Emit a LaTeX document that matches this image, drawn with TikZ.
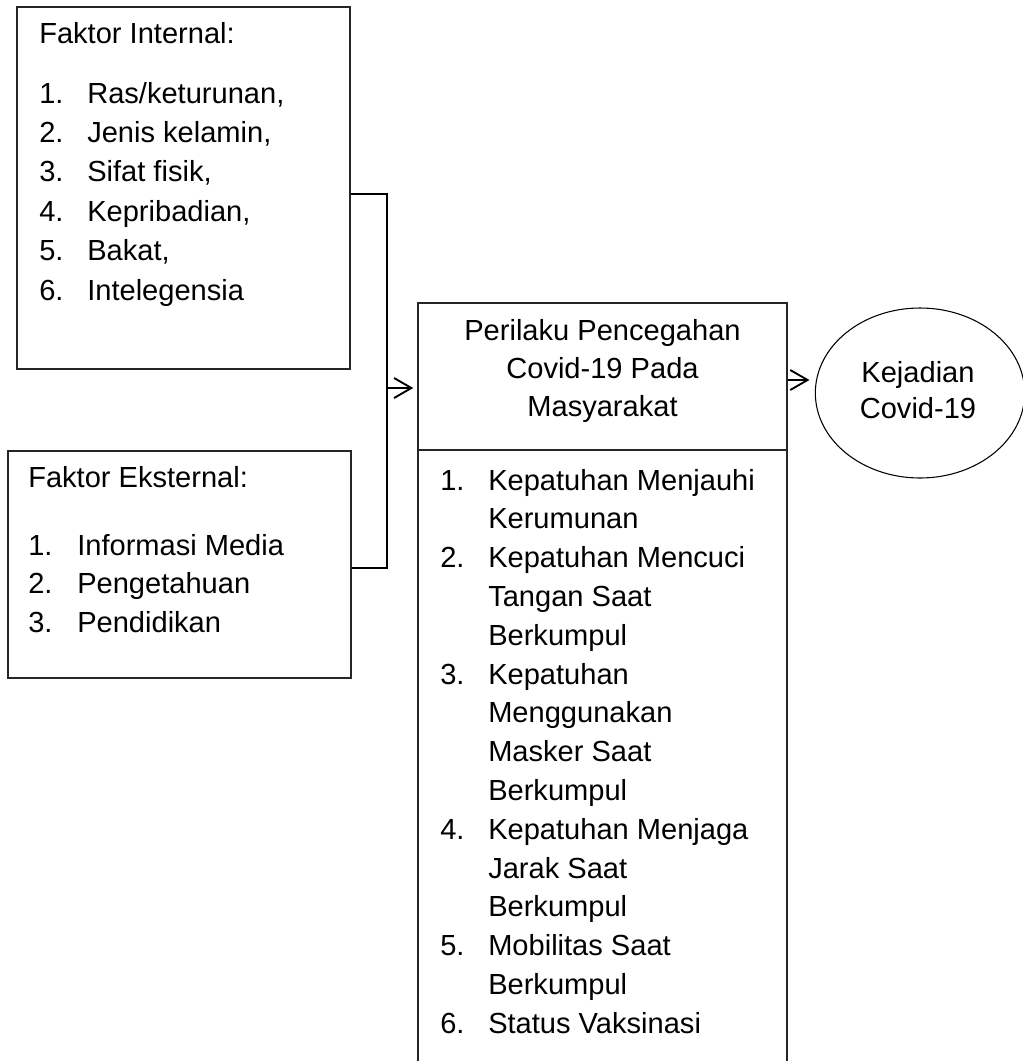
\documentclass[tikz,border=0pt]{standalone}
\usepackage{fontspec}
\setmainfont{Liberation Sans}
\usetikzlibrary{arrows.meta,fit,shapes.geometric}
\begin{document}
\begin{tikzpicture}[x=0.75pt,y=-0.75pt,
  box/.style={draw=black!85, line width=1.1pt, inner sep=0pt},
  conn/.style={line width=1.4pt, draw=black},
  arr/.style={conn, -{Straight Barb[length=13pt,width=15pt]}},
  txt/.style={anchor=base west, inner sep=0pt, font=\fontsize{21.8pt}{26pt}\selectfont},
  ctxt/.style={anchor=base, inner sep=0pt, font=\fontsize{21.8pt}{26pt}\selectfont}]
\useasboundingbox (0,0) rectangle (1023,1061);
\clip (0,0) rectangle (1023,1061);

% boxes
\coordinate (inNW) at (17,7);   \coordinate (inSE) at (350,369);
\coordinate (exNW) at (8,451);  \coordinate (exSE) at (351,678);
\coordinate (hdNW) at (418,303); \coordinate (hdSE) at (787,450);
\coordinate (lsNW) at (418,450); \coordinate (lsSE) at (787,1100);
\node[box, fit=(inNW)(inSE)] (internal) {};
\node[box, fit=(exNW)(exSE)] (external) {};
\node[box, fit=(hdNW)(hdSE)] (head) {};
\node[box, fit=(lsNW)(lsSE)] (list) {};
\node[draw=black, line width=0.8pt, ellipse, inner sep=0pt,
      minimum width=157pt, minimum height=127.5pt] (kej) at (920,393) {};

% connectors
\coordinate (j1) at (387,194);
\coordinate (j2) at (387,568);
\coordinate (j3) at (387,388);
\coordinate (r)  at (787,380);
\draw[conn] (internal.east |- j1) -- (j1) -- (j2) -- (external.east |- j2);
\draw[arr, shorten >=3pt] (j3) -- (head.west |- j3);
\draw[arr, shorten >=4pt] (head.east |- r) -- (kej.west |- r);

% internal text
\node[txt] (inT) at (39,43) {Faktor Internal:};
\node[txt] (inN1) at (39,103)   {1.}; \node[txt] (inI1) at (87,103)   {Ras/keturunan,};
\node[txt] (inN2) at (39,142.4) {2.}; \node[txt] (inI2) at (87,142.4) {Jenis kelamin,};
\node[txt] (inN3) at (39,181.8) {3.}; \node[txt] (inI3) at (87,181.8) {Sifat fisik,};
\node[txt] (inN4) at (39,221.2) {4.}; \node[txt] (inI4) at (87,221.2) {Kepribadian,};
\node[txt] (inN5) at (39,260.6) {5.}; \node[txt] (inI5) at (87,260.6) {Bakat,};
\node[txt] (inN6) at (39,300)   {6.}; \node[txt] (inI6) at (87,300)   {Intelegensia};

% external text
\node[txt] (exT) at (28,487) {Faktor Eksternal:};
\node[txt] (exN1) at (28,555)   {1.}; \node[txt] (exI1) at (77,555)   {Informasi Media};
\node[txt] (exN2) at (28,593.5) {2.}; \node[txt] (exI2) at (77,593.5) {Pengetahuan};
\node[txt] (exN3) at (28,632)   {3.}; \node[txt] (exI3) at (77,632)   {Pendidikan};

% header text
\node[ctxt] (hd1) at (602.5,340) {Perilaku Pencegahan};
\node[ctxt] (hd2) at (602.5,378) {Covid-19 Pada};
\node[ctxt] (hd3) at (602.5,416) {Masyarakat};

% list text
\node[txt] (lsN1) at (440,490)    {1.}; \node[txt] (ls1)  at (488,490)    {Kepatuhan Menjauhi};
\node[txt] (ls2)  at (488,528.8)  {Kerumunan};
\node[txt] (lsN2) at (440,567.6)  {2.}; \node[txt] (ls3)  at (488,567.6)  {Kepatuhan Mencuci};
\node[txt] (ls4)  at (488,606.4)  {Tangan Saat};
\node[txt] (ls5)  at (488,645.2)  {Berkumpul};
\node[txt] (lsN3) at (440,684)    {3.}; \node[txt] (ls6)  at (488,684)    {Kepatuhan};
\node[txt] (ls7)  at (488,722.8)  {Menggunakan};
\node[txt] (ls8)  at (488,761.6)  {Masker Saat};
\node[txt] (ls9)  at (488,800.4)  {Berkumpul};
\node[txt] (lsN4) at (440,839.2)  {4.}; \node[txt] (ls10) at (488,839.2)  {Kepatuhan Menjaga};
\node[txt] (ls11) at (488,878)    {Jarak Saat};
\node[txt] (ls12) at (488,916.8)  {Berkumpul};
\node[txt] (lsN5) at (440,955.6)  {5.}; \node[txt] (ls13) at (488,955.6)  {Mobilitas Saat};
\node[txt] (ls14) at (488,994.4)  {Berkumpul};
\node[txt] (lsN6) at (440,1033.2) {6.}; \node[txt] (ls15) at (488,1033.2) {Status Vaksinasi};

% ellipse text
\node[ctxt] (kej1) at (918,382) {Kejadian};
\node[ctxt] (kej2) at (918,418) {Covid-19};
\end{tikzpicture}
\end{document}
